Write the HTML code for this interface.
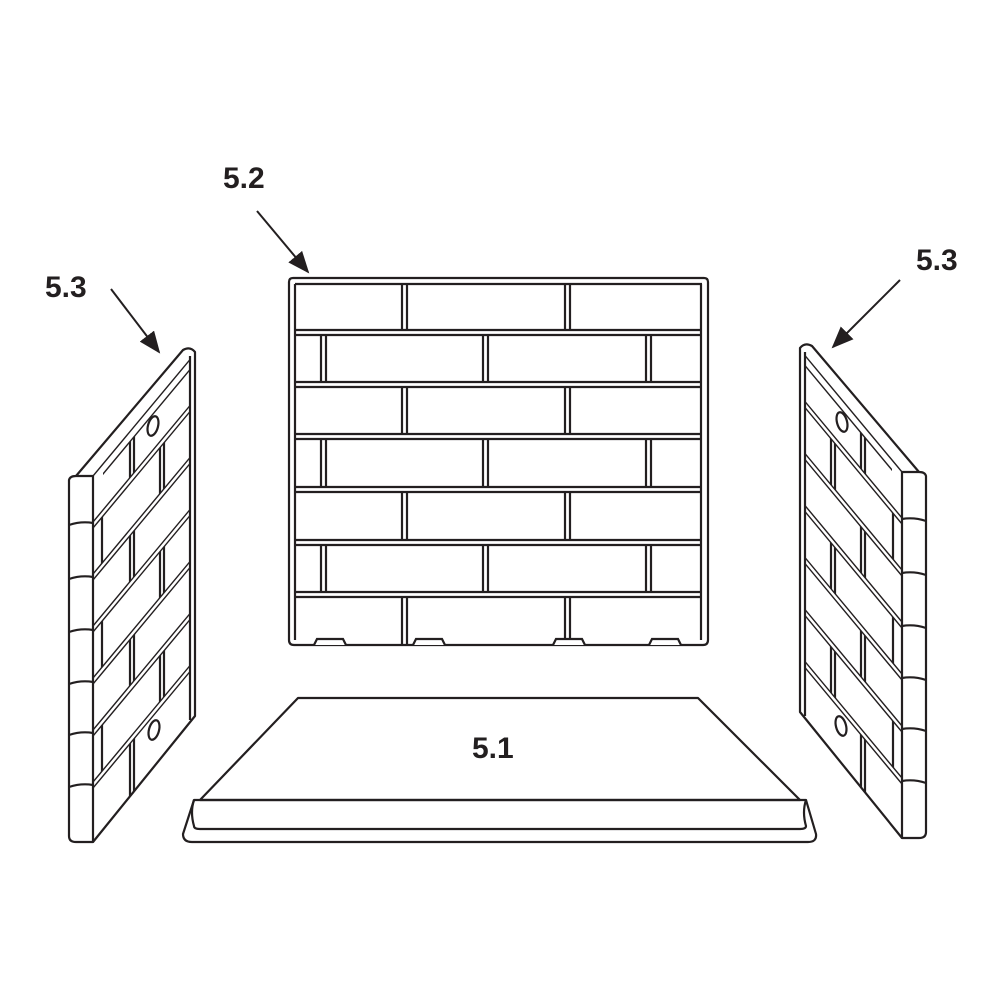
<!DOCTYPE html>
<html><head><meta charset="utf-8"><style>
html,body{margin:0;padding:0;background:#fff;}
svg{display:block}
text{font-family:"Liberation Sans",Arial,sans-serif;font-weight:bold;font-size:30px;fill:#231f20}
</style></head><body>
<svg width="1000" height="1000" viewBox="0 0 1000 1000" xmlns="http://www.w3.org/2000/svg">
<defs>
<marker id="ah" markerWidth="10" markerHeight="10" refX="9" refY="5" orient="auto" markerUnits="userSpaceOnUse" viewBox="0 0 10 10">
<path d="M0,0 L10,5 L0,10 z" fill="#231f20"/>
</marker>
<marker id="ah2" markerWidth="22" markerHeight="18" refX="20" refY="9" orient="auto" markerUnits="userSpaceOnUse" viewBox="0 0 22 18">
<path d="M0,0 L22,9 L0,18 z" fill="#231f20"/>
</marker>
<g id="side" fill="none" stroke="#231f20" stroke-width="2.2" stroke-linejoin="round">
  <!-- front edge strip -->
  <path d="M69,480 Q70,476 76,476 L93,476 L93,842 L76,842 Q69,842 69,836 Z" fill="#fff"/>
  <path d="M69,525 q12,-4 24,-2 M69,579 q12,-4 24,-2 M69,632 q12,-4 24,-2 M69,684 q12,-4 24,-2 M69,735 q12,-4 24,-2 M69,787 q12,-4 24,-2"/>
  <path d="M76,476 L183,350 Q190,346 195,352 L195,716 L93,842"/>
  <path d="M190,356 L190,720"/>
  <g transform="translate(93,476) skewY(-50.2)">
    <path d="M0,0 L97,0"/>
    <path d="M10,10 L97,10"/>
    <path d="M0,46 L97,46 M0,52 L97,52"/>
    <path d="M0,98 L97,98 M0,104 L97,104"/>
    <path d="M0,150 L97,150 M0,156 L97,156"/>
    <path d="M0,202 L97,202 M0,208 L97,208"/>
    <path d="M0,254 L97,254 M0,260 L97,260"/>
    <path d="M0,306 L97,306 M0,312 L97,312"/>
    <path d="M37,10 L37,46 M41,10 L41,46"/>
    <path d="M9,52 L9,98 M67,52 L67,98 M71,52 L71,98"/>
    <path d="M37,104 L37,150 M41,104 L41,150"/>
    <path d="M9,156 L9,202 M67,156 L67,202 M71,156 L71,202"/>
    <path d="M37,208 L37,254 M41,208 L41,254"/>
    <path d="M9,260 L9,306 M67,260 L67,306 M71,260 L71,306"/>
    <path d="M37,312 L37,366 M41,312 L41,366"/>
  </g>
  <ellipse cx="153" cy="426" rx="5" ry="10" transform="rotate(15 153 426)"/>
  <ellipse cx="154" cy="730" rx="5" ry="10" transform="rotate(15 154 730)"/>
</g>
</defs>

<use href="#side"/>
<use href="#side" transform="translate(995,-4) scale(-1,1)"/>

<!-- back wall -->
<g fill="none" stroke="#231f20" stroke-width="2.2">
  <path d="M289,282 Q289,278 293,278 L704,278 Q708,278 708,282 L708,640 Q708,645 703,645 L294,645 Q289,645 289,640 Z"/>
  <path d="M295,284 L702,284 M295,284 L295,640 M701,284 L701,640"/>
  <g id="hj">
    <path d="M295,330 L701,330 M295,335 L701,335"/>
  </g>
  <use href="#hj" transform="translate(0,52)"/>
  <use href="#hj" transform="translate(0,104)"/>
  <use href="#hj" transform="translate(0,157)"/>
  <use href="#hj" transform="translate(0,210)"/>
  <use href="#hj" transform="translate(0,262)"/>
  <!-- row verticals -->
  <path d="M402,284 L402,330 M407,284 L407,330 M565,284 L565,330 M570,284 L570,330"/>
  <path d="M321,335 L321,382 M326,335 L326,382 M483,335 L483,382 M488,335 L488,382 M646,335 L646,382 M651,335 L651,382"/>
  <path d="M402,387 L402,434 M407,387 L407,434 M565,387 L565,434 M570,387 L570,434"/>
  <path d="M321,439 L321,487 M326,439 L326,487 M483,439 L483,487 M488,439 L488,487 M646,439 L646,487 M651,439 L651,487"/>
  <path d="M402,492 L402,540 M407,492 L407,540 M565,492 L565,540 M570,492 L570,540"/>
  <path d="M321,545 L321,592 M326,545 L326,592 M483,545 L483,592 M488,545 L488,592 M646,545 L646,592 M651,545 L651,592"/>
  <path d="M402,597 L402,645 M407,597 L407,645 M565,597 L565,640 M570,597 L570,640"/>
  <!-- notches -->
  <path d="M314,645 l3,-6 l26,0 l3,6 M413,645 l3,-6 l26,0 l3,6 M553,645 l3,-6 l26,0 l3,6 M649,645 l3,-6 l26,0 l3,6" fill="#fff"/>
</g>

<!-- floor -->
<g fill="none" stroke="#231f20" stroke-width="2.2" stroke-linejoin="round">
  <path d="M298,698 L698,698 L800,800 L200,800 Z"/>
  <path d="M194,800 L806,800 Q802,812 806,826 Q806,829 800,829 L200,829 Q194,829 194,826 Q190,812 194,800 Z"/>
  <path d="M194,800 L183,834 Q183,842 192,842 L808,842 Q817,842 816,834 L806,800"/>
</g>

<!-- labels -->
<text x="223" y="188">5.2</text>
<text x="45" y="297">5.3</text>
<text x="916" y="270">5.3</text>
<text x="472" y="758">5.1</text>

<g stroke="#231f20" stroke-width="2" fill="none">
  <line x1="257" y1="211" x2="308" y2="272" marker-end="url(#ah2)"/>
  <line x1="111" y1="289" x2="159" y2="352" marker-end="url(#ah2)"/>
  <line x1="900" y1="280" x2="833" y2="347" marker-end="url(#ah2)"/>
</g>
</svg>
</body></html>
